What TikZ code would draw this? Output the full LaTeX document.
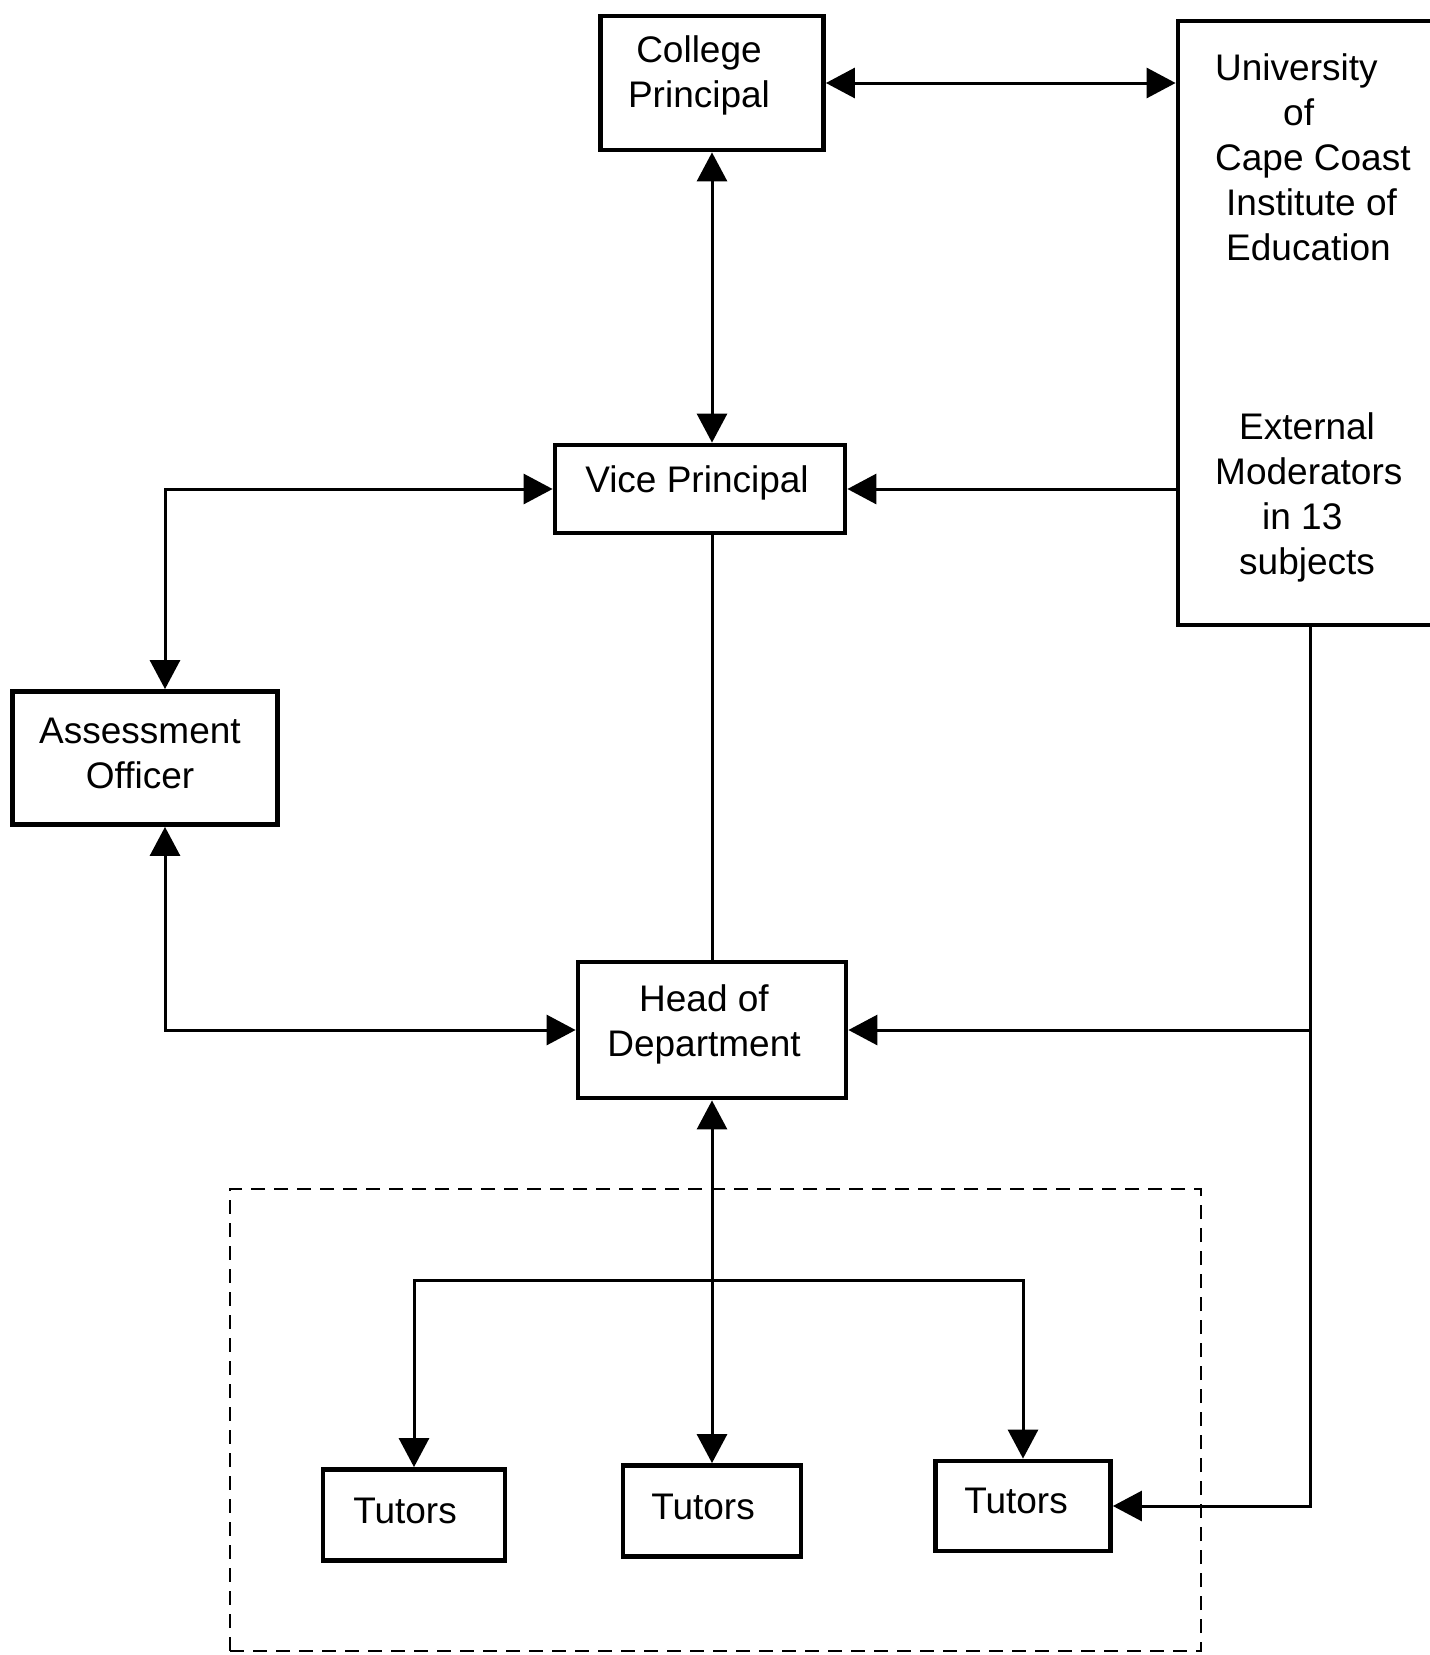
\documentclass[tikz,border=0pt]{standalone}
\usepackage{fontspec}
\setmainfont{Liberation Sans}
\usetikzlibrary{arrows.meta}
\begin{document}
\begin{tikzpicture}[x=1pt,y=-1pt,
  bx/.style={draw, line width=4.8pt, inner sep=0pt},
  txt/.style={align=center, inner sep=0pt, font=\fontsize{37}{45}\selectfont},
  ltxt/.style={align=left, anchor=west, inner sep=0pt, font=\fontsize{37}{45}\selectfont},
  conn/.style={line width=3pt},
  tip/.style={-{Triangle[length=29pt,width=30pt]}},
  tips/.style={{Triangle[length=29pt,width=30pt]}-{Triangle[length=29pt,width=30pt]}},
  grpbox/.style={draw, line width=2.5pt, dash pattern=on 14pt off 9pt, inner sep=0pt}
]
\useasboundingbox (0,0) rectangle (1430,1655);

% group frame
\node[grpbox, minimum width=971pt, minimum height=462pt] (grp) at (715.5,1420) {};

% boxes
\node[bx, minimum width=223pt, minimum height=134pt] (CP) at (712,83) {};
\node[bx, minimum width=292pt, minimum height=604pt] (U) at (1324,323) {};
\node[bx, minimum width=290pt, minimum height=88pt] (VP) at (700,489) {};
\node[bx, minimum width=265pt, minimum height=133pt] (AO) at (145,758) {};
\node[bx, minimum width=268pt, minimum height=136pt] (HoD) at (712,1030) {};
\node[bx, minimum width=182pt, minimum height=91pt] (T1) at (414,1515) {};
\node[bx, minimum width=178pt, minimum height=91pt] (T2) at (712,1511) {};
\node[bx, minimum width=175pt, minimum height=90pt] (T3) at (1023,1506) {};

% texts
\node[txt] (CPt) at (699,75) {College\\Principal};
\node[txt] (VPt) at (697,483) {Vice Principal};
\node[txt] (AOt) at (140,753) {Assessment\\Officer};
\node[txt] (HoDt) at (704,1024) {Head of\\Department};
\node[txt] (T1t) at (405,1511) {Tutors};
\node[txt] (T2t) at (703,1507) {Tutors};
\node[txt] (T3t) at (1016,1501) {Tutors};
\node[ltxt] (U1t) at (1215,157) {University\\\hspace*{68pt}of\\Cape Coast\\\hspace*{11pt}Institute of\\\hspace*{11pt}Education};
\node[ltxt] (U2t) at (1215,497) {\hspace*{24pt}External\\Moderators\\\hspace*{47pt}in 13\\\hspace*{24pt}subjects};

% connectors
\coordinate (ub) at ([xshift=-14pt]U.south);
\coordinate (bar) at (712,1280);
\draw[conn,tips] (CP.east) -- (CP.east -| U.west);
\draw[conn,tips] (CP.south) -- (CP.south |- VP.north);
\draw[conn,tip] (U.west |- VP.east) -- (VP.east);
\draw[conn,tips] (VP.west) -| ([xshift=20pt]AO.north);
\draw[conn] (HoD.north |- VP.south) -- (HoD.north);
\draw[conn,tips] ([xshift=20pt]AO.south) |- (HoD.west);
\draw[conn,tip] (ub) |- (T3.east);
\draw[conn,tip] (HoD.east -| ub) -- (HoD.east);
\draw[conn,tips] (HoD.south) -- (T2.north);
\draw[conn,tip] (bar) -| (T1.north);
\draw[conn,tip] (bar) -| (T3.north);
\end{tikzpicture}
\end{document}
